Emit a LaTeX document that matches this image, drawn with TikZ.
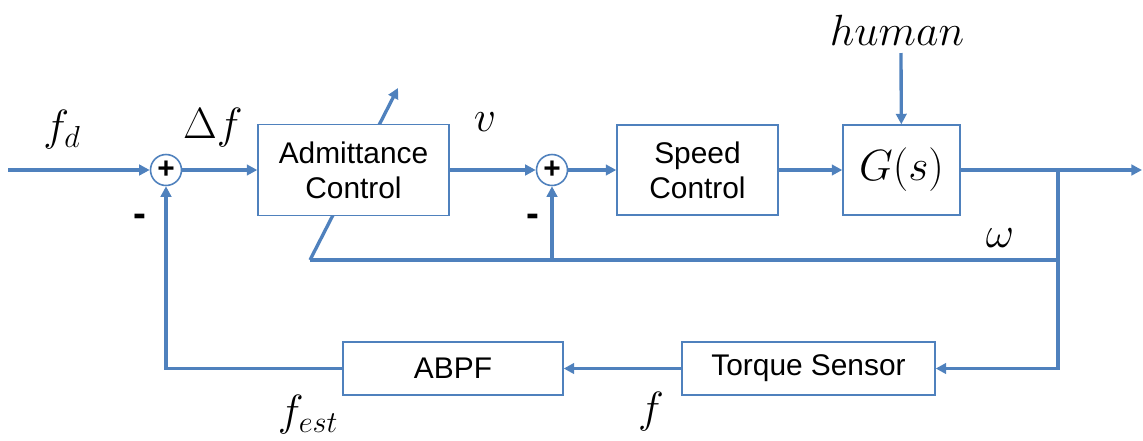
\documentclass[tikz,border=0pt]{standalone}
\usepackage{amsmath}
\usepackage{fontspec}
\setmainfont{Liberation Sans}
\usepackage{xcolor}
\usepackage{tikz}
\usetikzlibrary{
  arrows.meta,
  positioning,
  calc
}
\definecolor{wireblue}{RGB}{79,129,189}

\begin{document}
\begin{tikzpicture}[
  x=0.02cm, y=-0.02cm,
  blockbox/.style={
    draw=wireblue, fill=white, line width=0.8pt,
    font=\fontsize{17}{20}\selectfont, align=center, inner sep=2pt
  },
  sumnode/.style={
    circle, draw=wireblue, fill=white, line width=0.9pt,
    minimum size=0.62cm, inner sep=0pt,
    font=\fontsize{17}{17}\selectfont\bfseries
  },
  wire/.style={draw=wireblue, line width=1.9pt},
  arrowwire/.style={wire, -{Triangle[length=6pt, width=6pt]}},
  mathlabel/.style={font=\fontsize{25}{28}\selectfont},
  signlabel/.style={font=\fontsize{22}{22}\selectfont\bfseries}
]
  \useasboundingbox (0,0) rectangle (1143,440);

  % adaptation arrow, under the admittance block
  \coordinate (adjlo) at (310,260);
  \coordinate (adjhi) at (398,88);
  \draw[arrowwire] (adjlo) -- (adjhi);

  % forward path
  \coordinate (in) at (8,170);
  \node[sumnode] (s1) at (166,170) {+};
  \node[blockbox, minimum width=3.82cm, minimum height=1.82cm] (adm) at (353.5,170)
    {Admittance\\Control};
  \node[sumnode] (s2) at (552,170) {+};
  \node[blockbox, minimum width=3.22cm, minimum height=1.8cm] (spd) at (697.5,170)
    {Speed\\Control};
  \node[blockbox, minimum width=2.34cm, minimum height=1.8cm,
        font=\fontsize{25}{28}\selectfont] (plant) at (901.5,170) {$G(s)$};
  \coordinate (out) at (1142,170);
  \coordinate (tap) at (1058,170);
  \coordinate (dist) at (901,53);

  % feedback path
  \node[blockbox, minimum width=5.06cm, minimum height=1.06cm] (tor) at (808.5,368.5)
    {Torque Sensor};
  \node[blockbox, minimum width=4.4cm, minimum height=1.06cm] (abpf) at (453,368.5)
    {ABPF};
  \coordinate (fbk) at (1058,260);

  \draw[arrowwire] (in) -- (s1);
  \draw[arrowwire] (s1) -- (adm);
  \draw[arrowwire] (adm) -- (s2);
  \draw[arrowwire] (s2) -- (spd);
  \draw[arrowwire] (spd) -- (plant);
  \draw[arrowwire] (plant) -- (out);
  \draw[arrowwire] (dist) -- (plant);
  \draw[arrowwire] (tap) |- (tor);
  \draw[arrowwire] (tor) -- (abpf);
  \draw[arrowwire] (abpf) -| (s1);
  \draw[wire] (adjlo) -- (fbk);
  \draw[arrowwire] (s2 |- fbk) -- (s2);

  % labels
  \node[mathlabel] (lfd) at (62,130) {$f_d$};
  \node[mathlabel] (ldf) at (213,128) {$\Delta f$};
  \node[mathlabel] (lv) at (485,122) {$v$};
  \node[mathlabel] (lhum) at (897,30) {$human$};
  \node[mathlabel] (lom) at (1000,238) {$\omega$};
  \node[mathlabel] (lfest) at (308,415) {$f_{est}$};
  \node[mathlabel] (lf) at (651,412) {$f$};
  \node[signlabel] (m1) at (140,220) {-};
  \node[signlabel] (m2) at (533,220) {-};
\end{tikzpicture}
\end{document}
